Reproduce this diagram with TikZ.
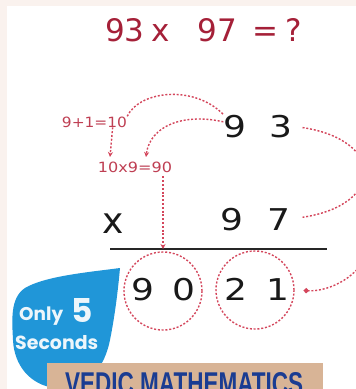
\documentclass[tikz,border=0pt]{standalone}
\usepackage{fontspec}
\setmainfont{DejaVu Sans}
\newfontfamily\popp{Poppins}
\newfontfamily\libs{Liberation Sans}
\usetikzlibrary{arrows.meta}
\definecolor{titlered}{RGB}{165,32,56}
\definecolor{dotred}{RGB}{212,70,92}
\definecolor{blobblue}{RGB}{32,150,216}
\definecolor{bannertan}{RGB}{216,180,150}
\definecolor{bannerblue}{RGB}{26,60,146}
\definecolor{edgebg}{RGB}{250,242,238}
\newcommand\bigdig[1]{\scalebox{1.2}[1]{#1}}
\begin{document}
\begin{tikzpicture}[x=1pt,y=-1pt,
  dotline/.style={draw=dotred, line width=1.4pt, dash pattern=on 2pt off 1.8pt},
  redhead/.style={-{Stealth[length=5pt,width=5pt]}},
  bigdigit/.style={font=\fontsize{30}{30}\selectfont, text=black!90, inner sep=0pt, anchor=base},
  smallred/.style={font=\fontsize{14}{14}\selectfont, text=dotred!90!black, inner sep=0pt, anchor=base},
  ringc/.style={circle, dotline, minimum size=78pt, inner sep=0pt},
  blobtxt/.style={font=\popp\bfseries, text=white, text opacity=0.92, inner sep=0pt}]
\useasboundingbox (0,0) rectangle (356,389);
\clip (0,0) rectangle (356,389);
% background
\fill[edgebg] (0,0) rectangle (356,389);
\fill[white] (7,6) rectangle (356,389);
% title
\node[font=\fontsize{31}{31}\selectfont, text=titlered, inner sep=0pt, anchor=base west] (title) at (105,41)
  {93\hspace{7pt}x\hspace{28pt}97\hspace{15pt}=\hspace{7.5pt}?};
% small helper labels
\node[smallred] (s1) at (94.5,127) {\resizebox{65pt}{10.5pt}{9+1=10}};
\node[smallred] (s2) at (135,172) {\resizebox{74pt}{10.5pt}{10x9=90}};
% numbers
\node[bigdigit] (a1) at (235,137) {\bigdig{9}};
\node[bigdigit] (a2) at (281,137) {\bigdig{3}};
\node[font=\fontsize{36}{36}\selectfont, text=black!90, inner sep=0pt, anchor=base] (xs) at (113,233) {x};
\node[bigdigit] (b1) at (232,230) {\bigdig{9}};
\node[bigdigit] (b2) at (279,230) {\bigdig{7}};
\node[bigdigit] (r1) at (143,300) {\bigdig{9}};
\node[bigdigit] (r2) at (184,300) {\bigdig{0}};
\node[bigdigit] (r3) at (236,300) {\bigdig{2}};
\node[bigdigit] (r4) at (278,300) {\bigdig{1}};
% rule
\coordinate (L1) at (110,249);
\coordinate (L2) at (327,249);
\draw[line width=2.6pt, black!85] (L1) -- (L2);
% circles
\node[ringc] (c1) at (163,291) {};
\node[ringc] (c2) at (255,290) {};
% connectors
\coordinate (s2in) at (110,157);
\coordinate (s2in2) at (146,157);
\coordinate (offR) at (368,250);
\draw[dotline] (s1.north east) .. controls (140,90) and (195,85) .. (a1.north west);
\draw[dotline, redhead] (a1.160) .. controls (185,113) and (150,125) .. (s2in2);
\draw[dotline, redhead] (s1.-17) -- (s2in);
\draw[dotline, redhead, shorten <=4pt] (s2.south -| c1) -- (L1 -| c1);
\draw[dotline, shorten <=10pt, shorten >=12pt] (a2.east) .. controls (385,140) and (385,205) .. (b2.east);
\draw[dotline, -{Circle[length=5pt]}, shorten >=9pt] (offR) .. controls (362,275) and (330,292) .. (c2.east);
% blue badge
\fill[blobblue] (120,268) .. controls (90,272) and (45,276) .. (25,288)
  .. controls (10,298) and (12,320) .. (13,340)
  .. controls (14,365) and (30,385) .. (55,388)
  .. controls (90,390) and (105,365) .. (110,340)
  .. controls (115,315) and (118,290) .. (120,268) -- cycle;
\node[blobtxt, anchor=base west] (only) at (19,320) {\resizebox{44pt}{!}{Only}};
\node[blobtxt, anchor=base west] (five) at (71,322) {\resizebox{!}{24pt}{5}};
\node[blobtxt, anchor=base west] (secs) at (15,349) {\resizebox{83pt}{!}{Seconds}};
% banner
\fill[bannertan] (47,363) rectangle (323,395);
\node[anchor=north west, inner sep=0pt, text=bannerblue] (banner) at (65,372)
  {\resizebox{238pt}{22pt}{\libs\bfseries VEDIC MATHEMATICS}};
\end{tikzpicture}
\end{document}
